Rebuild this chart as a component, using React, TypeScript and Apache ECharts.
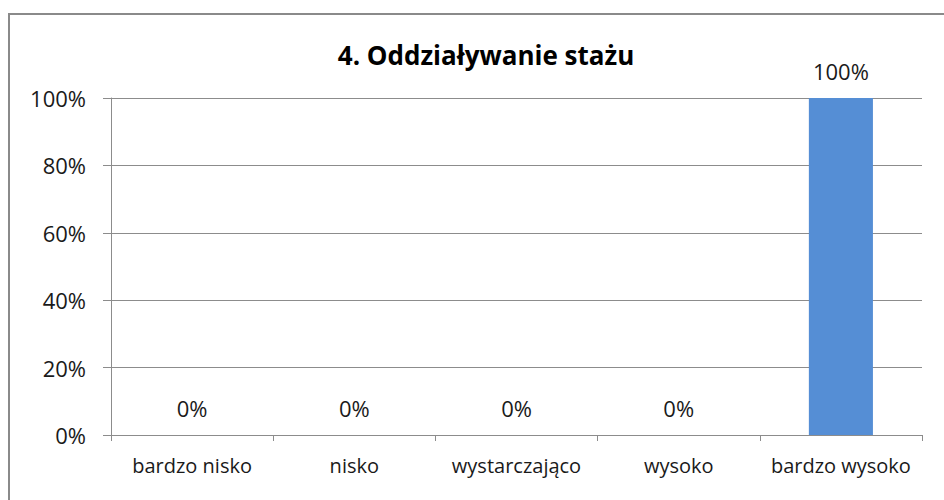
import React, { useEffect, useRef } from "react";
import * as echarts from "echarts";

const titleText = "4. Oddziaływanie stażu";
const categories = ["bardzo nisko", "nisko", "wystarczająco", "wysoko", "bardzo wysoko"];
const values = [0, 0, 0, 0, 100];
const yTicks = [0, 20, 40, 60, 80, 100];

const FONT = "'Open Sans', 'Noto Sans', sans-serif";

export default function App() {
  const ref = useRef<HTMLDivElement>(null);
  useEffect(() => {
    document.body.style.margin = "0";
    if (!ref.current) return;
    const chart = echarts.init(ref.current, null, { renderer: "svg" });
    chart.setOption({
      animation: false,
      backgroundColor: "#ffffff",
      textStyle: { fontFamily: FONT },
      graphic: [
        {
          type: "rect",
          shape: { x: 9, y: 14, width: 1000, height: 600 },
          style: { fill: "none", stroke: "#8a8a8a", lineWidth: 2 },
          silent: true,
        },
      ],
      title: {
        text: titleText,
        left: 481,
        textAlign: "center",
        top: 37,
        textStyle: { fontFamily: FONT, fontSize: 26, fontWeight: "bold", color: "#000000" },
      },
      grid: { left: 111, top: 98, right: 22, bottom: 65, containLabel: false },
      xAxis: {
        type: "category",
        data: categories,
        boundaryGap: true,
        axisLine: { show: true, lineStyle: { color: "#8c8c8c", width: 1 } },
        axisTick: { show: true, length: 6, interval: 0, alignWithLabel: false, lineStyle: { color: "#8c8c8c" } },
        axisLabel: { color: "#1a1a1a", fontSize: 20, margin: 20, interval: 0, fontFamily: FONT },
        splitLine: { show: false },
      },
      yAxis: {
        type: "value",
        min: yTicks[0],
        max: yTicks[yTicks.length - 1],
        interval: 20,
        axisLine: { show: true, lineStyle: { color: "#8c8c8c", width: 1 } },
        axisTick: { show: true, length: 8, inside: false, lineStyle: { color: "#8c8c8c" } },
        axisLabel: { color: "#1a1a1a", fontSize: 22, margin: 25, formatter: "{value}%", fontFamily: FONT },
        splitLine: { show: true, lineStyle: { color: "#8c8c8c", width: 1 } },
      },
      series: [
        {
          type: "bar",
          data: values,
          barWidth: "39.5%",
          itemStyle: { color: "#558ED5" },
          label: {
            show: true,
            position: "top",
            distance: 16,
            formatter: "{c}%",
            color: "#1a1a1a",
            fontSize: 22,
            fontFamily: FONT,
          },
        },
      ],
    });
    return () => chart.dispose();
  }, []);
  return <div ref={ref} style={{ width: 944, height: 500 }} />;
}
